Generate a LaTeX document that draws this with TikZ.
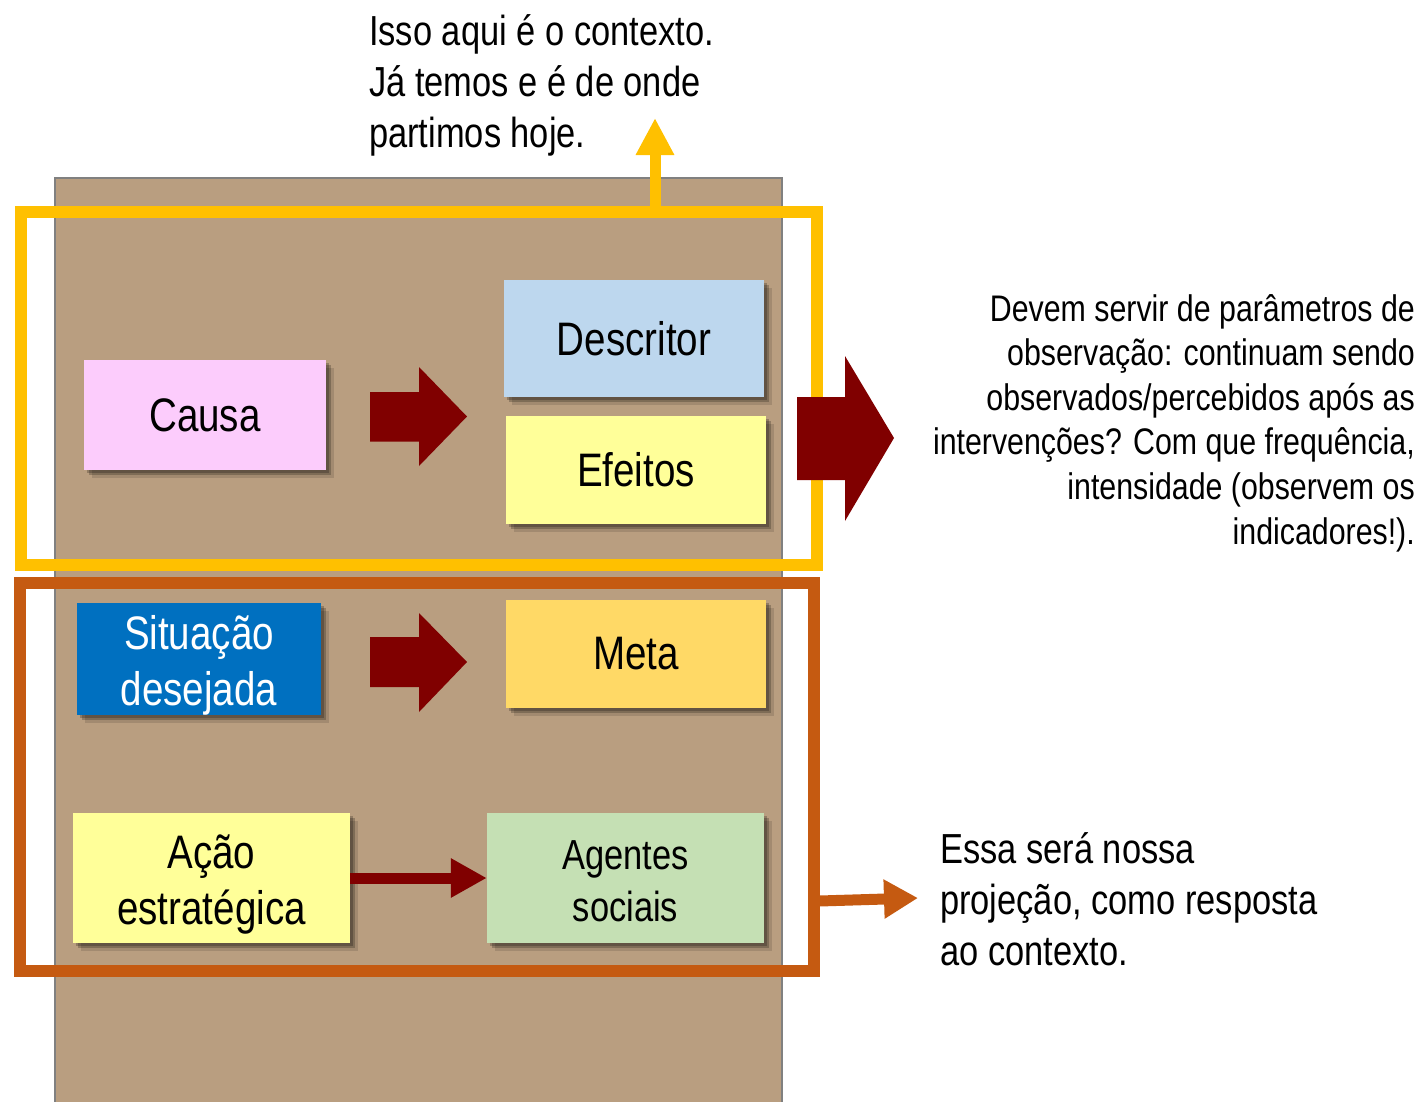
\documentclass[tikz,border=0pt]{standalone}
\usepackage{fontspec}
\setmainfont{Liberation Sans}[FakeStretch=0.82]
\usetikzlibrary{arrows.meta,shadows}
\definecolor{panelbrown}{RGB}{185,158,128}
\definecolor{panelgray}{RGB}{128,128,128}
\definecolor{yframe}{RGB}{255,192,0}
\definecolor{oframe}{RGB}{197,90,17}
\definecolor{darkred}{RGB}{128,0,0}
\definecolor{pinkbox}{RGB}{252,204,252}
\definecolor{bluebox}{RGB}{189,215,238}
\definecolor{yellowbox}{RGB}{255,255,153}
\definecolor{deepblue}{RGB}{0,112,192}
\definecolor{goldbox}{RGB}{255,217,102}
\definecolor{greenbox}{RGB}{197,224,180}
\newcommand\fsz[2]{\fontsize{#1}{#2}\selectfont}
\newcommand\twoline[3]{\raisebox{-#1}[\height][\depth]{\begin{tabular}{@{}c@{}}#2\\#3\end{tabular}}}
\tikzset{
  softshadow/.style={
    drop shadow={shadow xshift=2.5pt,shadow yshift=-2.5pt,opacity=.22,fill=black},
    drop shadow={shadow xshift=5pt,shadow yshift=-5pt,opacity=.22,fill=black},
    drop shadow={shadow xshift=7.5pt,shadow yshift=-7.5pt,opacity=.12,fill=black}},
  card/.style={softshadow, inner sep=0pt, align=center, font=\fsz{47}{56}},
  frame/.style={line width=12pt, inner sep=0pt},
  blockarrow/.style={fill=darkred},
  note/.style={inner sep=0pt}
}
\begin{document}
\begin{tikzpicture}[x=1pt,y=-1pt]
\useasboundingbox (0,0) rectangle (1425,1101);
% panel
\fill[panelbrown, draw=panelgray, line width=2pt] (55,178) rectangle (782,1110);
% frames
\node[frame, draw=yframe, minimum width=796.5pt, minimum height=353pt] (ctxframe) at (418.75,388) {};
\node[frame, draw=oframe, minimum width=793.5pt, minimum height=388pt] (projframe) at (416.75,777) {};
% boxes
\node[card, fill=pinkbox, minimum width=242pt, minimum height=110pt] (causa) at (205,415) {Causa};
\node[card, fill=bluebox, minimum width=260pt, minimum height=117pt] (descritor) at (634,338.5) {Descritor};
\node[card, fill=yellowbox, minimum width=260pt, minimum height=108pt] (efeitos) at (636,470) {Efeitos};
\node[card, fill=deepblue, text=white, minimum width=244pt, minimum height=108pt] (situacao) at (199,659) {\twoline{7pt}{Situação}{desejada}};
\node[card, fill=goldbox, minimum width=260pt, minimum height=108pt] (meta) at (636,654) {Meta};
\node[card, fill=yellowbox, minimum width=277pt, minimum height=130pt] (acao) at (211.5,878) {\twoline{7pt}{Ação}{estratégica}};
\node[card, fill=greenbox, font=\fsz{42}{52}, minimum width=277pt, minimum height=130pt] (agentes) at (625.5,878) {\twoline{7pt}{Agentes}{sociais}};
% block arrows
\fill[blockarrow] (370,392) -- (419,392) -- (419,367) -- (467,416.5) -- (419,466) -- (419,441.5) -- (370,441.5) -- cycle;
\fill[blockarrow] (370,637) -- (419,637) -- (419,613) -- (467,662) -- (419,712) -- (419,687) -- (370,687) -- cycle;
\fill[blockarrow] (797,397) -- (845,397) -- (845,356) -- (894,438) -- (845,521) -- (845,480) -- (797,480) -- cycle;
% thin arrow
\draw[darkred, line width=11pt, -{Triangle[length=36pt,width=37pt]}] (acao.east) -- (agentes.west);
% texts
\node[note, anchor=north west, align=left, font=\fsz{42}{51}] (ctxtext) at (369,14)
  {Isso aqui é o contexto.\\Já temos e é de onde\\partimos hoje.};
\node[note, anchor=north east, align=right, font=\fsz{37}{44.6}] (obstext) at (1415,294)
  {Devem servir de parâmetros de\\observação: continuam sendo\\observados/percebidos após as\\intervenções? Com que frequência,\\intensidade (observem os\\indicadores!).};
\node[note, anchor=north west, align=left, font=\fsz{42}{51}] (projtext) at (940,832)
  {Essa será nossa\\projeção, como resposta\\ao contexto.};
% connectors
\coordinate (ytip) at (655,118);
\coordinate (otip) at (918,898);
\draw[yframe, line width=11pt, -{Triangle[length=37pt,width=36pt]}] (ytip |- ctxframe.north) -- (ytip);
\draw[oframe, line width=11pt, -{Triangle[length=34pt,width=37pt]}] (projframe.east |- 0,901) -- (otip);
\end{tikzpicture}
\end{document}
